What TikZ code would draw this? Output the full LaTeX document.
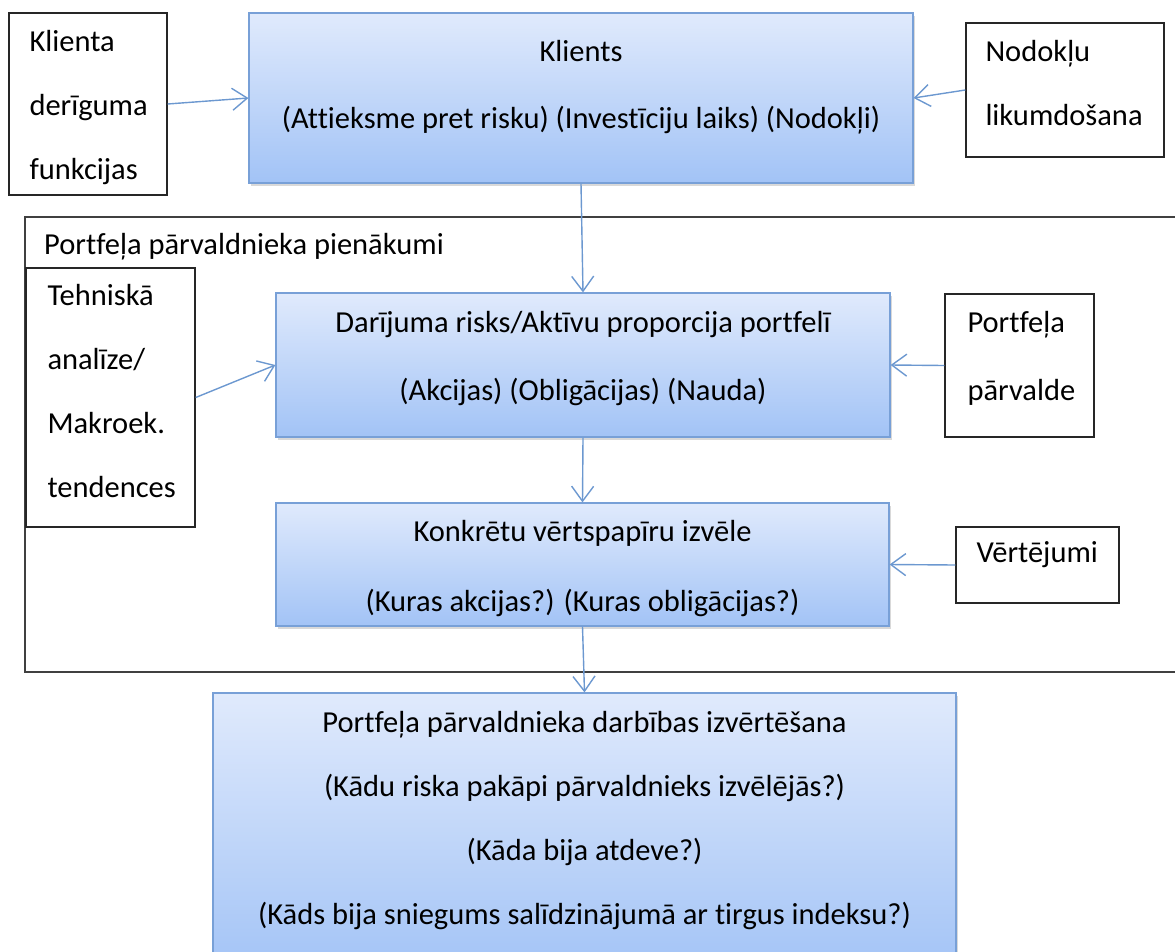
\documentclass[tikz,border=0pt]{standalone}
\usepackage{fontspec}
\setmainfont[Ligatures=NoCommon]{Carlito}
\usetikzlibrary{arrows.meta,positioning,shadows}

\definecolor{boxedge}{RGB}{120,160,215}
\definecolor{boxtop}{RGB}{224,234,252}
\definecolor{boxbottom}{RGB}{162,195,246}
\definecolor{linkblue}{RGB}{108,152,208}
\newcommand{\fl}{\rule{0pt}{24pt}}

\begin{document}
\begin{tikzpicture}[
  x=1pt,y=-1pt,
  font=\fontsize{30.5}{64}\selectfont,
  bluebox/.style={draw=boxedge,line width=1.2pt,top color=boxtop,bottom color=boxbottom,
    drop shadow={shadow xshift=2pt,shadow yshift=-3pt,opacity=0.3},inner sep=0pt},
  plainbox/.style={draw=black!85,line width=1.4pt,fill=white,inner sep=0pt},
  framebox/.style={draw=black!75,line width=2pt,inner sep=0pt},
  midtext/.style={inner sep=0pt,align=center},
  sidetext/.style={inner sep=0pt,align=left},
  link/.style={linkblue,line width=1.4pt,-{Straight Barb[length=15pt,width=22pt]}}
]
  \useasboundingbox (0,0) rectangle (1175,951);

  % manager's duties frame
  \node[framebox,minimum width=1165pt,minimum height=455pt] (duties) at (607.5,444.5) {};
  \node[sidetext,below right=14pt and 20pt of duties.north west] (dutiestext) {\fl Portfeļa pārvaldnieka pienākumi};

  % client level
  \node[plainbox,minimum width=158pt,minimum height=182pt] (util) at (88,104) {};
  \node[sidetext,below right=15pt and 21pt of util.north west] (utiltext) {\fl Klienta\\derīguma\\funkcijas};
  \node[bluebox,minimum width=664pt,minimum height=170pt] (client) at (581,98) {};
  \node[midtext,below=25pt of client.north] (clienttext) {\fl Klients\\[3pt](Attieksme pret risku) (Investīciju laiks) (Nodokļi)};
  \node[plainbox,minimum width=198pt,minimum height=134pt] (taxlaw) at (1065,90) {};
  \node[sidetext,below right=15pt and 20pt of taxlaw.north west] (taxlawtext) {\fl Nodokļu\\likumdošana};

  % allocation level
  \node[plainbox,minimum width=169pt,minimum height=259pt] (tech) at (110.5,397.5) {};
  \node[sidetext,below right=14pt and 22pt of tech.north west] (techtext) {\fl Tehniskā\\analīze/\\Makroek.\\tendences};
  \node[bluebox,minimum width=614pt,minimum height=144pt] (alloc) at (583,365) {};
  \node[midtext,below=16pt of alloc.north] (alloctext) {\fl Darījuma risks/Aktīvu proporcija portfelī\\[4pt](Akcijas) (Obligācijas) (Nauda)};
  \node[plainbox,minimum width=149pt,minimum height=143pt] (pmgmt) at (1019.5,365.5) {};
  \node[sidetext,below right=15pt and 23pt of pmgmt.north west] (pmgmttext) {\fl Portfeļa\\[4pt]pārvalde};

  % security selection
  \node[bluebox,minimum width=613pt,minimum height=123pt] (select) at (582.5,564.5) {};
  \node[midtext,below=15pt of select.north] (selecttext) {\fl Konkrētu vērtspapīru izvēle\\[6pt](Kuras akcijas?) (Kuras obligācijas?)};
  \node[plainbox,minimum width=163pt,minimum height=76pt] (valuat) at (1037.5,565) {};
  \node[sidetext,below right=12pt and 21pt of valuat.north west] (valuattext) {\fl Vērtējumi};

  % evaluation
  \node[bluebox,minimum width=743pt,minimum height=282pt] (eval) at (584.5,834) {};
  \node[midtext,below=16pt of eval.north] (evaltext) {\fl Portfeļa pārvaldnieka darbības izvērtēšana\\(Kādu riska pakāpi pārvaldnieks izvēlējās?)\\(Kāda bija atdeve?)\\(Kāds bija sniegums salīdzinājumā ar tirgus indeksu?)};

  \draw[link] (util.east) -- (client.west);
  \draw[link] (taxlaw.west) -- (client.east);
  \draw[link] (client.south) -- (alloc.north);
  \draw[link] (tech.east) -- (alloc.west);
  \draw[link] (pmgmt.west) -- (alloc.east);
  \draw[link] (alloc.south) -- (select.north);
  \draw[link] (valuat.west) -- (select.east);
  \draw[link] (select.south) -- (eval.north);
\end{tikzpicture}
\end{document}
